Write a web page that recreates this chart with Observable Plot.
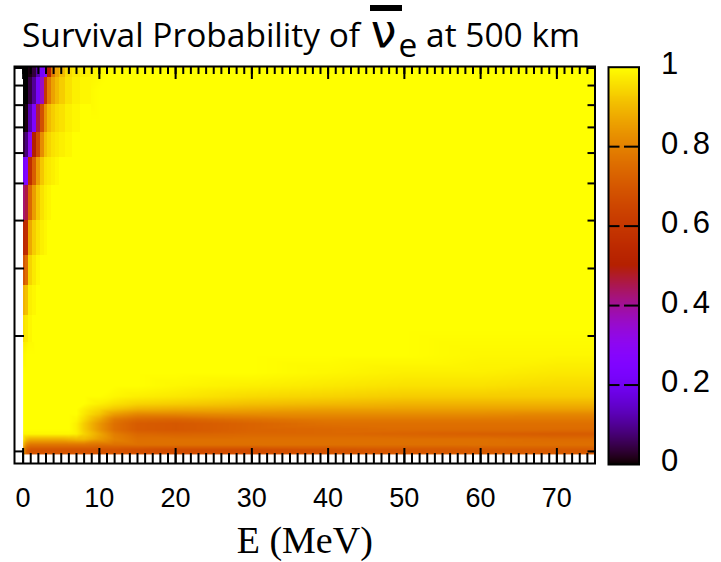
<!DOCTYPE html>
<html>
<head>
<meta charset="utf-8">
<script src="https://cdn.jsdelivr.net/npm/d3@7"></script>
<script src="https://cdn.jsdelivr.net/npm/@observablehq/plot@0.6"></script>
<style>
  html, body { margin: 0; padding: 0; background: #fff; }
  #wrap { position: relative; width: 721px; height: 562px; overflow: hidden; background: #fff; }
  #title { position: absolute; left: 22px; top: 11px; font-family: "Open Sans", "Noto Sans", sans-serif;
           font-size: 33.5px; font-weight: 500; line-height: 40px; white-space: nowrap; color: #000; }
  #title .nu { position: relative; display: inline-block; font-family: "DejaVu Sans", sans-serif; font-size: 46px; line-height: 40px; padding: 0 2px; }
  #title .nu::before { content: ""; position: absolute; left: 1px; right: -3px; top: -6px; height: 6px; background: #000; }
  #title sub { font-size: 33.5px; vertical-align: -10px; line-height: 0; }
  #cbar text { letter-spacing: 3px; }
  .abs { position: absolute; top: 0; }
</style>
</head>
<body>
<div id="wrap">
  <div id="title">Survival Probability of <span class="nu">ν</span><sub>e</sub> at 500 km</div>
  <div id="main" class="abs" style="left:0"></div>
  <div id="cbar" class="abs" style="left:600px"></div>
</div>
<script>
// ---- data ----
// neutrino energy columns (MeV)
const energies = [0, 0.5, 1, 1.5, 2, 2.5, 3, 3.5, 4, 4.5, 5, 6, 7, 8, 10, 12, 15, 20, 30, 40, 50, 60, 70, 75];
// vertical (log) axis rows, top to bottom
const yValues = [10.09, 8.8, 7.3, 6.3, 5.4, 4.52, 3.55, 2.96, 2.48, 2.07, 1.78, 1.6, 1.48, 1.39, 1.33,
                 1.29, 1.25, 1.21, 1.18, 1.14, 1.11, 1.075, 1.04, 1.01, 0.982];
// survival probability, one row per yValue, one entry per energy
const survival = [
  [0.00,0.00,0.01,0.04,0.12,0.22,0.28,0.50,0.78,0.86,0.90,0.95,0.97,0.98,0.99,1,1,1,1,1,1,1,1,1],
  [0.00,0.00,0.04,0.10,0.22,0.36,0.60,0.78,0.86,0.90,0.93,0.96,0.98,0.99,1,1,1,1,1,1,1,1,1,1],
  [0.00,0.01,0.12,0.24,0.46,0.68,0.83,0.90,0.93,0.95,0.96,0.98,0.99,1,1,1,1,1,1,1,1,1,1,1],
  [0.04,0.08,0.30,0.50,0.66,0.82,0.91,0.94,0.96,0.97,0.98,0.99,1,1,1,1,1,1,1,1,1,1,1,1],
  [0.22,0.26,0.56,0.72,0.85,0.92,0.96,0.97,0.98,0.99,1,1,1,1,1,1,1,1,1,1,1,1,1,1],
  [0.43,0.46,0.74,0.85,0.92,0.96,0.98,0.99,1,1,1,1,1,1,1,1,1,1,1,1,1,1,1,1],
  [0.54,0.56,0.87,0.93,0.96,0.98,0.99,1,1,1,1,1,1,1,1,1,1,1,1,1,1,1,1,1],
  [0.70,0.75,0.94,0.97,0.99,1,1,1,1,1,1,1,1,1,1,1,1,1,1,1,1,1,1,1],
  [0.89,0.91,0.98,0.99,1,1,1,1,1,1,1,1,1,1,1,1,1,1,1,1,1,1,1,1],
  [0.96,0.97,0.99,1,1,1,1,1,1,1,1,1,1,1,1,1,1,1,1,1,1,1,1,1],
  [0.99,1,1,1,1,1,1,1,1,1,1,1,1,1,1,1,1,1,1,1,1,0.99,0.99,0.99],
  [1,1,1,1,1,1,1,1,1,1,1,1,1,1,1,1,1,1,1,0.99,0.98,0.98,0.97,0.97],
  [1,1,1,1,1,1,1,1,1,1,1,1,1,1,1,1,1,0.99,0.98,0.97,0.96,0.96,0.95,0.95],
  [1,1,1,1,1,1,1,1,1,1,1,1,1,1,1,0.99,0.98,0.97,0.95,0.94,0.93,0.93,0.93,0.93],
  [1,1,1,1,1,1,1,1,1,1,1,1,1,1,0.98,0.96,0.94,0.93,0.91,0.90,0.89,0.89,0.89,0.89],
  [1,1,1,1,1,1,1,1,1,1,1,1,1,0.98,0.95,0.92,0.89,0.88,0.87,0.86,0.86,0.86,0.86,0.86],
  [1,1,1,1,1,1,1,1,1,1,1,1,1,0.97,0.92,0.85,0.81,0.81,0.82,0.82,0.82,0.82,0.81,0.81],
  [1,1,1,1,1,1,1,1,1,1,1,1,0.99,0.95,0.87,0.78,0.74,0.73,0.76,0.78,0.78,0.78,0.78,0.78],
  [1,1,1,1,1,1,1,1,1,1,1,1,0.98,0.93,0.84,0.76,0.71,0.70,0.73,0.76,0.76,0.76,0.76,0.76],
  [1,1,1,1,1,1,1,1,1,1,1,1,0.98,0.93,0.84,0.76,0.71,0.70,0.73,0.74,0.75,0.75,0.75,0.75],
  [0.99,0.99,0.99,0.99,0.99,0.99,0.99,0.99,0.99,0.99,0.99,0.99,0.98,0.94,0.87,0.79,0.74,0.73,0.74,0.74,0.73,0.72,0.71,0.71],
  [0.97,0.90,0.88,0.88,0.88,0.88,0.88,0.88,0.88,0.88,0.88,0.89,0.90,0.90,0.85,0.80,0.76,0.76,0.76,0.76,0.76,0.76,0.75,0.75],
  [0.90,0.80,0.77,0.77,0.77,0.77,0.77,0.77,0.77,0.77,0.77,0.77,0.77,0.77,0.76,0.76,0.76,0.76,0.76,0.76,0.76,0.76,0.76,0.76],
  [0.85,0.72,0.69,0.69,0.69,0.69,0.69,0.69,0.69,0.69,0.69,0.69,0.69,0.69,0.69,0.69,0.68,0.67,0.67,0.69,0.70,0.71,0.71,0.71],
  [0.85,0.72,0.69,0.69,0.69,0.69,0.69,0.69,0.69,0.69,0.69,0.69,0.69,0.69,0.69,0.69,0.68,0.67,0.67,0.69,0.70,0.71,0.71,0.71]
];
// axis ticks
const xMajorTicks = [0, 10, 20, 30, 40, 50, 60, 70];
const xMinorTicks = d3.range(0, 75, 1);
const yTicks = [1, 2, 3, 4, 5, 6, 7, 8, 9, 10];
const cbTicks = [0, 0.2, 0.4, 0.6, 0.8, 1];
const cbInnerTicks = [0.2, 0.4, 0.6, 0.8];
const xLabel = "E (MeV)";

// gnuplot "traditional pm3d" palette (rgbformulae 7,5,15)
const pm3d = t => {
  t = Math.max(0, Math.min(1, t));
  return d3.rgb(255 * Math.sqrt(t), 255 * t * t * t, 255 * Math.max(0, Math.sin(2 * Math.PI * t))).formatHex();
};
const colorScale = {type: "linear", domain: [0, 1], interpolate: pm3d, clamp: true};

const samples = yValues.flatMap((v, i) => energies.map((E, j) => ({E, v, P: survival[i][j]})));

// pm3d-like cells (one per sample) for the finely structured low-energy corner
const cornerRows = 10, cornerCols = 14;
const cells = [];
for (let i = 0; i < cornerRows; i++) {
  for (let j = 0; j < cornerCols; j++) {
    cells.push({
      e1: j === 0 ? energies[0] : (energies[j - 1] + energies[j]) / 2,
      e2: (energies[j] + energies[j + 1]) / 2,
      vTop: i === 0 ? yValues[0] : Math.sqrt(yValues[i - 1] * yValues[i]),
      vBot: Math.sqrt(yValues[i] * yValues[i + 1]),
      P: survival[i][j]
    });
  }
}

const W = 600, H = 562, mL = 14, mR = 5.5, mT = 66, mB = 99;
const frameW = W - mL - mR, frameH = H - mT - mB;
const ink = {stroke: "black", strokeWidth: 2};

const main = Plot.plot({
  width: W, height: H, marginLeft: mL, marginRight: mR, marginTop: mT, marginBottom: mB,
  x: {domain: [-1.13, 75]},
  y: {type: "log", domain: [0.93, 10.09], axis: null},
  color: colorScale,
  style: {fontFamily: "'Liberation Sans', Arial, sans-serif", background: "transparent", color: "black", overflow: "visible"},
  marks: [
    Plot.raster(samples, {x: "E", y: "v", fill: "P", interpolate: "barycentric", x1: 0, x2: 75, y1: 0.982, y2: 10.09}),
    Plot.rect(cells, {x1: "e1", x2: "e2", y1: "vBot", y2: "vTop", fill: "P", shapeRendering: "crispEdges"}),
    Plot.ruleX(xMinorTicks, {insetTop: frameH - 10, ...ink}),
    Plot.ruleX(xMajorTicks, {insetTop: frameH - 15, ...ink}),
    Plot.ruleX(xMinorTicks, {insetBottom: frameH - 8, ...ink}),
    Plot.ruleX(xMajorTicks, {insetBottom: frameH - 13, ...ink}),
    Plot.ruleY(yTicks, {insetRight: frameW - 10, ...ink}),
    Plot.ruleY(yTicks, {insetLeft: frameW - 7, ...ink}),
    Plot.frame(ink),
    Plot.axisX(xMajorTicks, {tickSize: 0, tickPadding: 24, fontSize: 27, label: null, fill: "black"}),
    Plot.text([xLabel], {frameAnchor: "bottom", dy: 77, lineAnchor: "middle", fontFamily: "'Liberation Serif', 'Times New Roman', serif", fontSize: 38, fill: "black"})
  ]
});
document.getElementById("main").appendChild(main);

const cbW = 121;
const cbLevels = d3.range(0, 1, 0.0025);
const cbar = Plot.plot({
  width: cbW, height: H, marginLeft: 8, marginRight: cbW - 38.5, marginTop: 66.7, marginBottom: 98,
  x: {domain: [0, 1], axis: null},
  y: {domain: [0, 1], axis: null},
  color: colorScale,
  style: {fontFamily: "'Liberation Sans', Arial, sans-serif", background: "transparent", color: "black", overflow: "visible"},
  marks: [
    Plot.rect(cbLevels, {x1: 0, x2: 1, y1: d => d, y2: d => d + 0.0025, fill: d => d + 0.00125, shapeRendering: "crispEdges"}),
    Plot.ruleY(cbInnerTicks, {insetRight: 19, ...ink}),
    Plot.ruleY(cbInnerTicks, {insetLeft: 16, ...ink}),
    Plot.frame(ink),
    Plot.axisY(cbTicks, {anchor: "right", tickSize: 0, tickPadding: 22, fontSize: 31, tickFormat: d => String(d), dy: -3, label: null, fill: "black"})
  ]
});
document.getElementById("cbar").appendChild(cbar);
</script>
</body>
</html>
